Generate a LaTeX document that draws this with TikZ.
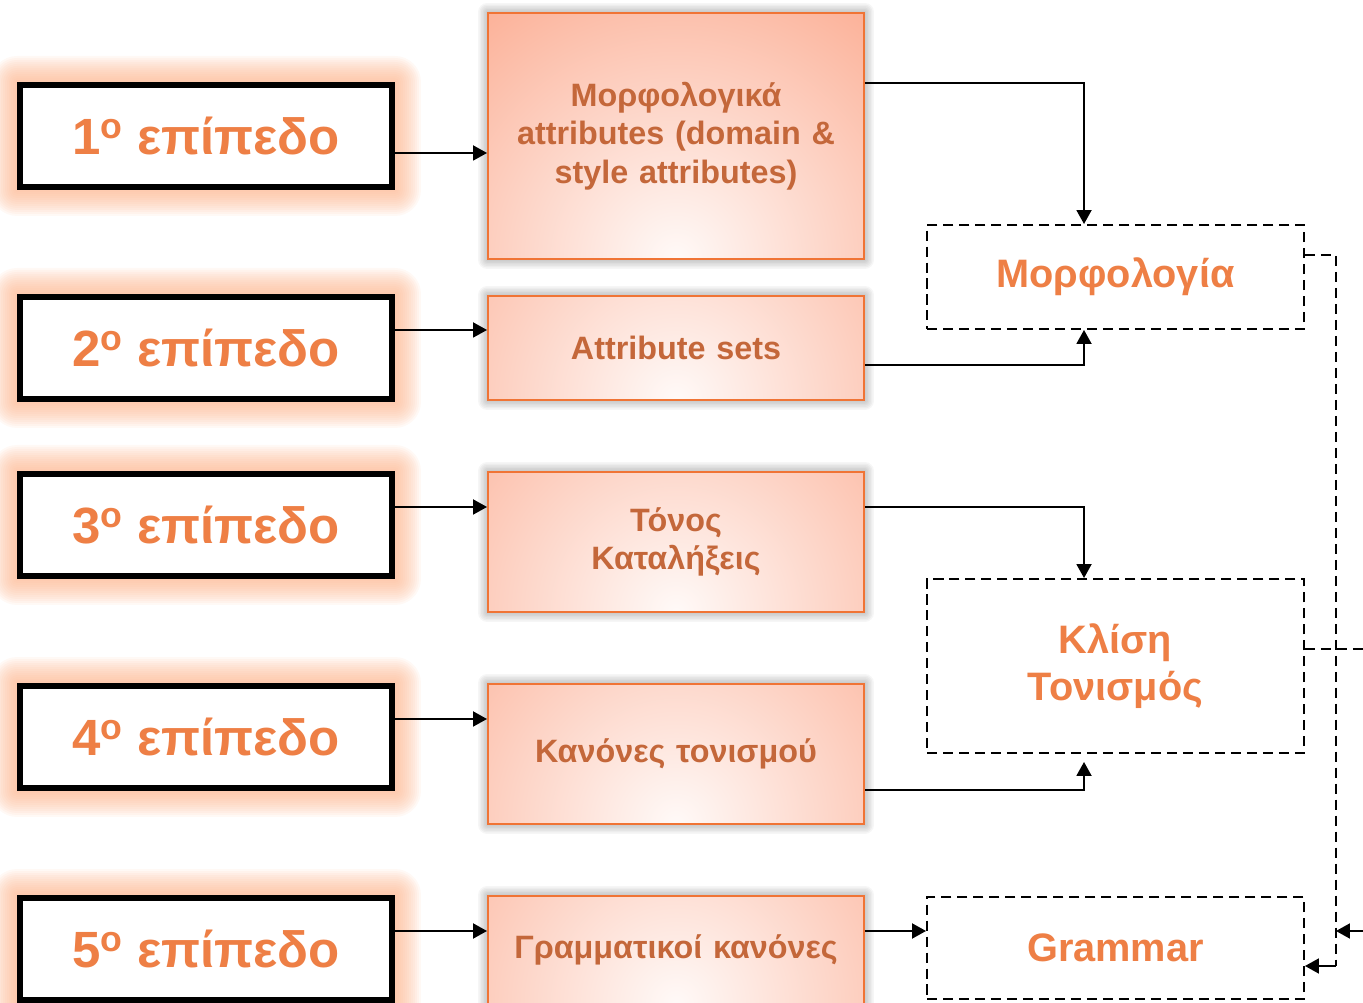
\documentclass[tikz,border=0pt]{standalone}
\usepackage{fontspec}
\setmainfont{Liberation Sans}
\usetikzlibrary{positioning,arrows.meta,calc,backgrounds}
\definecolor{lvlorange}{HTML}{EE7F45}
\definecolor{boxtext}{HTML}{C4673A}
\definecolor{boxsalmon}{HTML}{FBA487}
\definecolor{boxedge}{HTML}{F07435}
\definecolor{glowpeach}{HTML}{FDB48C}
\tikzset{
  levelbox/.style={draw=black, line width=3.4pt, fill=white, inner sep=0pt,
                   minimum width=7.44cm, minimum height=2.04cm,
                   font=\fontsize{29}{34}\selectfont\bfseries, text=lvlorange},
  attrbox/.style={draw=boxedge, line width=1.1pt, fill=boxsalmon, inner sep=2pt,
                  align=center, minimum width=7.52cm, text width=7.2cm,
                  font=\fontsize{18.4}{22}\selectfont\bfseries, text=boxtext,
                  path picture={\shade[inner color=white!94!boxsalmon, outer color=boxsalmon]
                    (path picture bounding box.south) circle (7.4cm);}},
  groupbox/.style={draw=black, line width=1.1pt, dash pattern=on 5.7pt off 3.4pt,
                   fill=white, align=center, minimum width=7.54cm,
                   font=\fontsize{22.6}{26.7}\selectfont\bfseries, text=lvlorange},
  arr/.style={-{Triangle[length=2.8mm,width=3mm]}, line width=1.1pt},
  dashline/.style={line width=1.1pt, dash pattern=on 5.7pt off 3.4pt},
}
\begin{document}
\begin{tikzpicture}
  \useasboundingbox (0,0) rectangle (27.26,20.04);
  % levels (left column)
  \node[levelbox] (l1) at (4.12,17.32) {1\textsuperscript{o} επίπεδο};
  \node[levelbox] (l2) at (4.12,13.08) {2\textsuperscript{o} επίπεδο};
  \node[levelbox] (l3) at (4.12,9.54) {3\textsuperscript{o} επίπεδο};
  \node[levelbox] (l4) at (4.12,5.30) {4\textsuperscript{o} επίπεδο};
  \node[levelbox] (l5) at (4.12,1.06) {5\textsuperscript{o} επίπεδο};
  % attribute boxes (middle column)
  \node[attrbox, minimum height=4.92cm] (m1) at (13.52,17.32)
       {Μορφολογικά\\attributes (domain \&\\style attributes)};
  \node[attrbox, minimum height=2.08cm] (m2) at (13.52,13.08) {Attribute sets};
  \node[attrbox, minimum height=2.80cm] (m3) at (13.52,9.20) {Τόνος\\Καταλήξεις};
  \node[attrbox, minimum height=2.80cm] (m4) at (13.52,4.96) {Κανόνες τονισμού};
  \node[attrbox, minimum height=2.16cm] (m5) at (13.52,1.04) {Γραμματικοί κανόνες};
  % groups (right column)
  \node[groupbox, minimum height=2.08cm] (mor) at (22.31,14.50) {Μορφολογία};
  \node[groupbox, minimum height=3.48cm] (kli) at (22.31,6.72) {Κλίση\\Τονισμός};
  \node[groupbox, minimum height=2.04cm] (gram) at (22.31,1.08) {Grammar};
  % glow and shadow
  \begin{scope}[on background layer]
    \foreach \n in {l1,l2,l3,l4,l5}{
      \foreach \s in {0.04,0.08,...,0.56}{
        \fill[glowpeach, opacity=0.085, rounded corners=\s cm]
          ($(\n.south west)+(-\s,-\s)$) rectangle ($(\n.north east)+(\s,\s)$);
      }
    }
    \foreach \n in {m1,m2,m3,m4,m5}{
      \foreach \s in {0.03,0.06,...,0.18}{
        \fill[black, opacity=0.035, rounded corners=\s cm]
          ($(\n.south west)+(-\s,-\s)$) rectangle ($(\n.north east)+(\s,\s)$);
      }
    }
  \end{scope}
  % level -> attributes
  \coordinate (a1) at ([yshift=-0.34cm]l1.east);
  \draw[arr] (a1) -- (a1 -| m1.west);
  \foreach \i in {2,...,5}{
    \coordinate (a\i) at ([yshift=0.36cm]l\i.east);
    \draw[arr] (a\i) -- (a\i -| m\i.west);
  }
  % attributes -> groups
  \coordinate (b1) at ([yshift=1.06cm]m1.east);
  \coordinate (b2) at ([yshift=-0.34cm]m2.east);
  \coordinate (b3) at ([yshift=0.70cm]m3.east);
  \coordinate (b4) at ([yshift=-0.72cm]m4.east);
  \coordinate (b5) at ([yshift=0.38cm]m5.east);
  \draw[arr] (b1) -| ([xshift=-0.63cm]mor.north);
  \draw[arr] (b2) -| ([xshift=-0.63cm]mor.south);
  \draw[arr] (b3) -| ([xshift=-0.63cm]kli.north);
  \draw[arr, shorten >=0.16cm] (b4) -| ([xshift=-0.63cm]kli.south);
  \draw[arr] (b5) -- (b5 -| gram.west);
  % groups -> grammar
  \coordinate (d1) at ([yshift=0.44cm]mor.east);
  \coordinate (d2) at ([yshift=-0.36cm]gram.east);
  \coordinate (d3) at ($(d2)+(0.62,0)$);
  \draw[dashline] (d1) -| (d3);
  \draw[arr] (d3) -- (d2);
  \coordinate (k1) at ([yshift=0.34cm]kli.east);
  \draw[dashline] (k1) -- ++(1.4,0);
  \coordinate (k2) at (d3 |- b5);
  \draw[arr] ($(k2)+(0.7,0)$) -- (k2);
\end{tikzpicture}
\end{document}
